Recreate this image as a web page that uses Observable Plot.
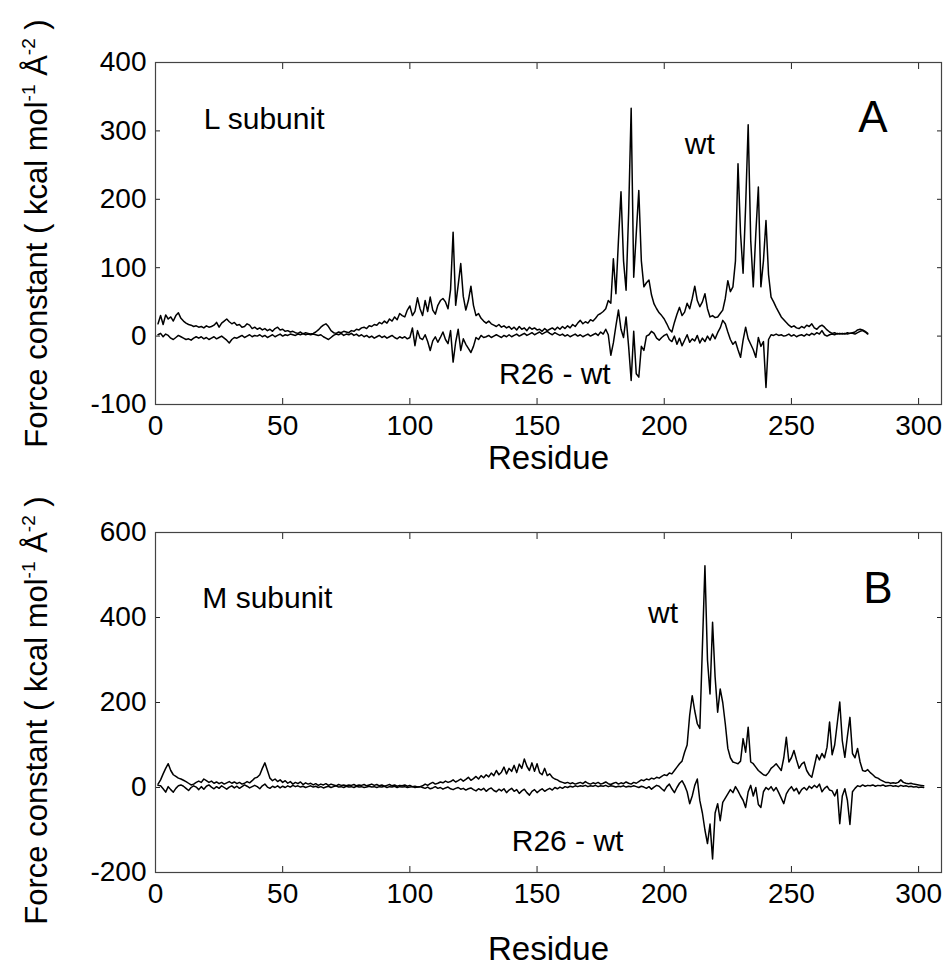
<!DOCTYPE html>
<html><head><meta charset="utf-8">
<script src="https://cdn.jsdelivr.net/npm/d3@7"></script>
<script src="https://cdn.jsdelivr.net/npm/@observablehq/plot@0.6"></script>
<style>
body{margin:0;background:#fff;}
#wrap{position:relative;width:947px;height:971px;font-family:"Liberation Sans",Arial,sans-serif;}
#wrap svg{position:absolute;left:0;overflow:visible;}
</style></head><body><div id="wrap"></div>
<script>
// ---------- data ----------
const xTicks = [0, 50, 100, 150, 200, 250, 300];
const xDomain = [0, 309];
const yTicksA = [-100, 0, 100, 200, 300, 400];
const yTicksB = [-200, 0, 200, 400, 600];
const yLabelParts = [["Force constant ( kcal mol", false], ["-1", true], [" Å", false], ["-2", true], [" )", false]];
const yLabel = yLabelParts.map(p => p[0]).join("");
const xLabel = "Residue";

// Panel A (L subunit): residue 1..280
const wtA = [
18,30,17,31,25,28,22,30,34,26,
22,19,17,16,14,15,13,14,12,15,
13,14,16,20,13,19,22,25,21,18,
20,16,17,13,14,18,16,11,13,10,
12,9,11,8,10,7,11,13,9,10,
7,8,6,7,5,4,6,3,5,4,
3,4,6,9,13,16,18,14,8,5,
4,6,5,7,6,5,8,7,10,9,
12,13,11,15,14,17,16,20,18,22,
19,25,22,28,24,33,30,28,38,44,
30,36,56,40,30,52,36,57,38,32,
45,52,55,50,40,68,152,45,75,106,
58,38,52,73,45,30,33,26,22,19,
22,18,16,14,17,13,15,12,14,10,
13,9,14,10,12,8,13,10,12,9,
10,7,11,8,10,12,9,13,10,14,
11,15,12,17,14,19,23,18,21,19,
24,22,26,31,33,36,40,52,48,113,
62,140,211,110,67,180,333,86,150,213,
110,72,78,82,60,47,40,34,30,25,
18,10,6,20,32,42,30,35,48,40,
55,73,52,43,50,62,40,28,30,27,
28,33,38,55,81,65,72,110,252,150,
92,190,309,140,72,150,218,72,110,169,
90,57,50,42,35,28,24,20,16,13,
15,12,11,14,12,16,14,18,12,10,
14,16,13,9,6,4,5,3,4,3,
4,3,4,4,3,5,7,8,6,3];
const diffA = [
2,4,-1,3,1,-3,-5,-2,1,-1,
-3,-5,-4,-6,-3,-1,-3,-1,-4,-2,
-5,-3,-1,-4,-2,0,-3,-6,-10,-5,
-2,-3,-1,1,-2,0,2,-1,1,0,
2,-1,1,-2,0,2,-1,1,3,0,
2,1,3,2,1,3,2,4,2,3,
2,3,2,1,2,-1,-3,-5,-2,1,
3,2,4,1,3,2,4,1,3,0,
2,-1,1,-2,0,-3,-1,1,-2,0,
-3,-1,1,-2,-4,-1,-3,-1,-4,-2,
12,-14,8,-3,-5,2,-8,-21,-7,-1,
-9,-2,6,-5,-11,8,-38,-9,10,-21,
-4,-12,-18,-24,-15,-2,-5,1,-2,-1,
1,-2,0,2,0,-2,1,-1,2,-1,
1,3,0,2,4,1,3,5,2,4,
6,3,5,7,4,2,5,3,1,3,
0,2,-1,1,3,0,2,-1,1,3,
0,2,4,1,6,3,10,2,-28,-10,
15,38,10,-2,28,-15,-65,7,-55,-60,
-15,-21,0,2,7,4,-3,-6,-2,1,
3,-5,-8,0,-12,-3,-14,-6,2,-9,
-4,-7,1,-10,-3,-8,0,-6,3,-4,
5,12,23,18,6,-5,-12,-8,-20,-31,
-6,13,-4,-12,-20,-31,-2,-15,-8,-75,
-5,2,1,3,1,2,0,1,3,0,
2,-1,1,2,0,3,1,4,2,5,
3,8,2,0,2,3,2,4,3,4,
3,5,4,5,6,9,10,9,7,4];

// Panel B (M subunit): residue 1..302
const wtB = [
8,18,32,45,56,40,30,26,22,20,
17,14,10,6,8,12,15,12,20,16,
12,15,10,13,9,12,8,11,14,10,
13,9,12,8,10,14,11,16,22,24,
30,45,58,40,22,16,20,14,18,12,
16,10,14,8,12,9,13,7,11,8,
10,6,9,5,8,6,9,5,8,6,
4,7,5,6,4,6,5,7,4,6,
5,7,4,6,8,5,7,4,6,3,
5,7,4,6,3,5,4,6,3,5,
2,3,1,2,4,8,5,9,12,8,
10,13,11,15,12,14,18,13,16,20,
15,19,24,17,21,26,20,28,23,30,
25,34,28,40,30,36,48,32,45,38,
52,35,55,45,67,50,40,58,38,56,
35,30,45,28,32,24,20,18,14,12,
10,12,9,11,8,10,12,9,14,10,
8,11,9,12,8,10,13,9,7,10,
12,8,11,9,13,10,8,12,10,14,
18,16,20,18,22,20,24,22,26,30,
28,34,32,40,48,56,62,83,100,170,
216,180,150,139,330,522,300,220,389,260,
177,232,200,150,92,70,60,58,56,62,
115,83,142,60,56,48,40,35,30,28,
35,45,50,56,48,40,70,118,60,70,
87,65,45,55,60,40,30,24,50,77,
65,80,70,95,154,77,100,150,201,110,
71,120,165,80,70,92,60,40,38,42,
35,30,24,22,18,15,12,12,10,11,
10,12,18,12,10,9,10,8,7,6,
5,4];
const diffB = [
5,4,-3,-11,2,-5,-11,-2,4,6,
3,-2,-7,0,4,1,-5,2,-4,3,
6,1,-3,2,-2,4,0,-4,1,4,
-1,3,-2,2,6,3,-1,2,5,2,
-3,4,8,1,-2,3,0,4,-1,3,
0,4,1,5,2,4,1,3,0,2,
4,1,3,0,2,-1,1,3,0,2,
4,1,2,0,3,1,2,0,3,1,
2,0,1,3,1,2,0,2,1,3,
0,2,1,3,0,2,1,2,0,1,
2,0,1,2,0,-2,1,-3,-1,2,
-2,0,-4,-1,1,-3,-5,-2,0,-4,
-2,-6,-3,-1,-5,-8,-3,-6,-2,-9,
-4,-1,-7,-10,-4,-8,-3,-12,-6,-2,
-9,-5,-14,-8,-4,-12,-18,-9,-5,-12,
-7,-3,-9,-5,-2,-6,0,-3,1,-2,
2,0,3,1,4,2,4,3,5,2,
4,3,5,2,4,3,5,2,4,3,
1,3,2,4,1,3,2,4,2,0,
3,1,-2,2,-4,1,5,3,-3,-8,
2,8,-3,-12,0,10,16,5,-10,-38,
-20,5,20,-31,-60,-100,-132,-86,-168,-60,
-38,-78,-35,-25,-15,-5,-12,2,-8,-20,
-30,-47,-10,5,-20,0,-40,-47,-10,0,
-5,2,-8,0,-12,-25,-38,-15,-5,2,
-8,-2,-15,-5,0,-6,3,-2,5,0,
8,-10,-2,3,-6,-8,-20,-5,-85,-20,
-3,-30,-87,-10,-2,4,2,6,3,5,
4,6,3,5,4,6,3,4,5,3,
4,2,5,3,4,2,3,1,2,0,
1,0];

// annotations (data coordinates)
const notesA = {
  subunit: [{text: "L subunit", x: 19, y: 317}],
  letter:  [{text: "A", x: 282, y: 319}],
  series:  [{text: "wt", x: 214, y: 281}, {text: "R26 - wt", x: 157, y: -56}]
};
const notesB = {
  subunit: [{text: "M subunit", x: 18.4, y: 445}],
  letter:  [{text: "B", x: 284, y: 467}],
  series:  [{text: "wt", x: 199.5, y: 409}, {text: "R26 - wt", x: 162, y: -126}]
};

// ---------- drawing ----------
const FONT = '"Liberation Sans", Arial, Helvetica, sans-serif';
const rows = arr => arr.map((v, i) => ({residue: i + 1, value: v}));

function panel({wt, diff, yTicks, yDomain, notes, height, marginTop, marginBottom, xLabelDy, yLabelDy}) {
  const svg = Plot.plot({
    width: 947, height, marginLeft: 155, marginRight: 6, marginTop, marginBottom,
    style: {fontFamily: FONT, fontSize: "28px", color: "#000", background: "transparent", overflow: "visible"},
    x: {domain: xDomain, axis: null},
    y: {domain: yDomain, axis: null},
    marks: [
      Plot.line(rows(wt), {x: "residue", y: "value", stroke: "#000", strokeWidth: 1.5}),
      Plot.line(rows(diff), {x: "residue", y: "value", stroke: "#000", strokeWidth: 1.5}),
      Plot.axisX(xTicks, {anchor: "bottom", tickSize: -6, tickPadding: 17, tickFormat: d => String(d), label: null, stroke: "#222"}),
      Plot.axisX(xTicks, {anchor: "top", tickSize: -6, fill: "none", label: null, stroke: "#222"}),
      Plot.axisY(yTicks, {anchor: "left", tickSize: -5, tickPadding: 14, tickFormat: d => String(d), label: null, stroke: "#222"}),
      Plot.axisY(yTicks, {anchor: "right", tickSize: -5, fill: "none", label: null, stroke: "#222"}),
      Plot.frame({stroke: "#444", strokeWidth: 1.2}),
      Plot.text(notes.subunit, {x: "x", y: "y", text: "text", textAnchor: "start", fontSize: 30}),
      Plot.text(notes.letter, {x: "x", y: "y", text: "text", textAnchor: "middle", fontSize: 44}),
      Plot.text(notes.series, {x: "x", y: "y", text: "text", textAnchor: "middle", fontSize: 30}),
      Plot.text([xLabel], {text: d => d, frameAnchor: "bottom", lineAnchor: "middle", textAnchor: "middle", dy: xLabelDy, fontSize: 33}),
      Plot.text([yLabel], {text: d => d, frameAnchor: "left", lineAnchor: "middle", textAnchor: "middle", rotate: -90, dx: -118, dy: yLabelDy, fontSize: 31})
    ]
  });
  // superscripts in the y label
  d3.select(svg).selectAll("text").each(function () {
    const t = d3.select(this);
    if (t.text() === yLabel) {
      t.text(null);
      let up = false;
      for (const [s, sup] of yLabelParts) {
        const ts = t.append("tspan").text(s);
        if (sup && !up) { ts.attr("dy", -12).attr("font-size", 19); up = true; }
        else if (!sup && up) { ts.attr("dy", 12); up = false; }
      }
    }
  });
  return svg;
}

const wrap = document.getElementById("wrap");
const a = panel({wt: wtA, diff: diffA, yTicks: yTicksA, yDomain: [-100, 400], notes: notesA,
  height: 480, marginTop: 62, marginBottom: 76, xLabelDy: 54, yLabelDy: 0});
a.style.top = "0px";
wrap.appendChild(a);
const b = panel({wt: wtB, diff: diffB, yTicks: yTicksB, yDomain: [-200, 600], notes: notesB,
  height: 491, marginTop: 52, marginBottom: 99, xLabelDy: 77, yLabelDy: 8});
b.style.top = "480px";
wrap.appendChild(b);
</script></body></html>
